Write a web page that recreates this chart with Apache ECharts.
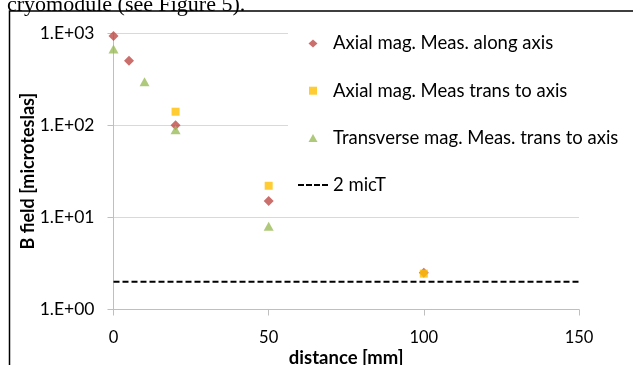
<!DOCTYPE html>
<html>
<head>
<meta charset="utf-8">
<script src="https://cdn.jsdelivr.net/npm/echarts@6/dist/echarts.min.js"></script>
<style>
html,body{margin:0;padding:0;background:#fff;}
#chart{width:633px;height:365px;}
</style>
</head>
<body>
<div id="chart"></div>
<script>
// ---- data ----
var seriesNames = [
  'Axial mag. Meas. along axis',
  'Axial mag. Meas trans to axis',
  'Transverse mag. Meas. trans to axis',
  '2 micT'
];
var axialAlongX = [0, 5, 20, 50, 100];
var axialAlongY = [930, 500, 100, 15, 2.5];
var axialTransX = [20, 50, 100];
var axialTransY = [140, 22, 2.45];
var transTransX = [0, 10, 20, 50];
var transTransY = [670, 295, 89, 8];
var limitX = [0, 150];
var limitY = [2, 2];
var xTicks = [0, 50, 100, 150];
var yTickLabels = ['1.E+00', '1.E+01', '1.E+02', '1.E+03'];
var xTitle = 'distance [mm]';
var yTitle = 'B field [microteslas]';
var captionText = 'cryomodule (see Figure 5).';

function pairs(xs, ys) { return xs.map(function (x, i) { return [x, ys[i]]; }); }

var FONT = 'Lato';
var chart = echarts.init(document.getElementById('chart'), null, {renderer: 'canvas'});

var option = {
  animation: false,
  backgroundColor: '#fff',
  textStyle: {fontFamily: FONT},
  grid: {left: 113.5, right: 54, top: 33, bottom: 55.5, containLabel: false, outerBoundsMode: 'none'},
  xAxis: {
    type: 'value', min: xTicks[0], max: xTicks[xTicks.length - 1], interval: 50,
    axisLine: {show: true, lineStyle: {color: '#bfbfbf', width: 1}},
    axisTick: {show: true, inside: false, length: 6, lineStyle: {color: '#bfbfbf'}},
    splitLine: {show: false},
    axisLabel: {fontFamily: FONT, fontSize: 16.5, color: '#000', margin: 20},
    name: xTitle, nameLocation: 'middle', nameGap: 39, nameMoveOverlap: false,
    nameTextStyle: {fontFamily: FONT, fontSize: 18.5, fontWeight: 'bold', color: '#000'}
  },
  yAxis: {
    type: 'log', logBase: 10, min: 1, max: 1000,
    axisLine: {show: true, lineStyle: {color: '#bfbfbf', width: 1}},
    axisTick: {show: true, inside: false, length: 6, lineStyle: {color: '#bfbfbf'}},
    minorTick: {show: false},
    splitLine: {show: true, lineStyle: {color: '#d9d9d9', width: 1}},
    axisLabel: {
      fontFamily: FONT, fontSize: 17.5, color: '#000', margin: 19,
      formatter: function (v) { return yTickLabels[Math.round(Math.log10(v))]; }
    },
    name: yTitle, nameLocation: 'middle', nameGap: 76, nameRotate: 90, nameMoveOverlap: false,
    nameTextStyle: {fontFamily: FONT, fontSize: 18, fontWeight: 'bold', color: '#000'}
  },
  legend: {
    orient: 'vertical', left: 288, top: 29,
    padding: [5, 10, 5, 10], backgroundColor: '#fff',
    itemWidth: 30, itemHeight: 14, itemGap: 28.2,
    textStyle: {fontFamily: FONT, fontSize: 18.5, color: '#000'},
    data: [
      {name: seriesNames[0], icon: 'path://M0,0M30,14M15,3L19.5,7L15,11L10.5,7Z'},
      {name: seriesNames[1], icon: 'path://M0,0M30,14M11,3L19,3L19,11L11,11Z'},
      {name: seriesNames[2], icon: 'path://M0,0M30,14M15,3L19.5,11L10.5,11Z'},
      {name: seriesNames[3], icon: 'path://M0,0M30,14M0,6L6,6L6,8L0,8ZM8,6L14,6L14,8L8,8ZM16,6L22,6L22,8L16,8ZM24,6L30,6L30,8L24,8Z', itemStyle: {color: '#000'}}
    ]
  },
  series: [
    {
      name: seriesNames[0], type: 'scatter', symbol: 'diamond', symbolSize: [10, 10],
      itemStyle: {color: '#be4b48'}, data: pairs(axialAlongX, axialAlongY), z: 3
    },
    {
      name: seriesNames[1], type: 'scatter', symbol: 'rect', symbolSize: [8, 8],
      itemStyle: {color: '#ffc000'}, data: pairs(axialTransX, axialTransY), z: 4
    },
    {
      name: seriesNames[2], type: 'scatter', symbol: 'triangle', symbolSize: [10, 9],
      itemStyle: {color: '#9bbb59'}, data: pairs(transTransX, transTransY), z: 5
    },
    {
      name: seriesNames[3], type: 'line', symbol: 'none', showSymbol: false,
      lineStyle: {color: '#000', width: 2, type: [6, 3]},
      itemStyle: {color: '#000'},
      data: pairs(limitX, limitY), z: 2
    }
  ],
  graphic: [
    {
      type: 'rect', silent: true, z: 100,
      shape: {x: 9.5, y: 11, width: 700, height: 400},
      style: {fill: 'none', stroke: '#000', lineWidth: 1.5}
    },
    {
      type: 'text', silent: true, z: 100, left: 7, top: -6,
      style: {text: captionText, font: '22px "Liberation Serif"', fill: '#000'}
    }
  ]
};
chart.setOption(option);
</script>
</body>
</html>
